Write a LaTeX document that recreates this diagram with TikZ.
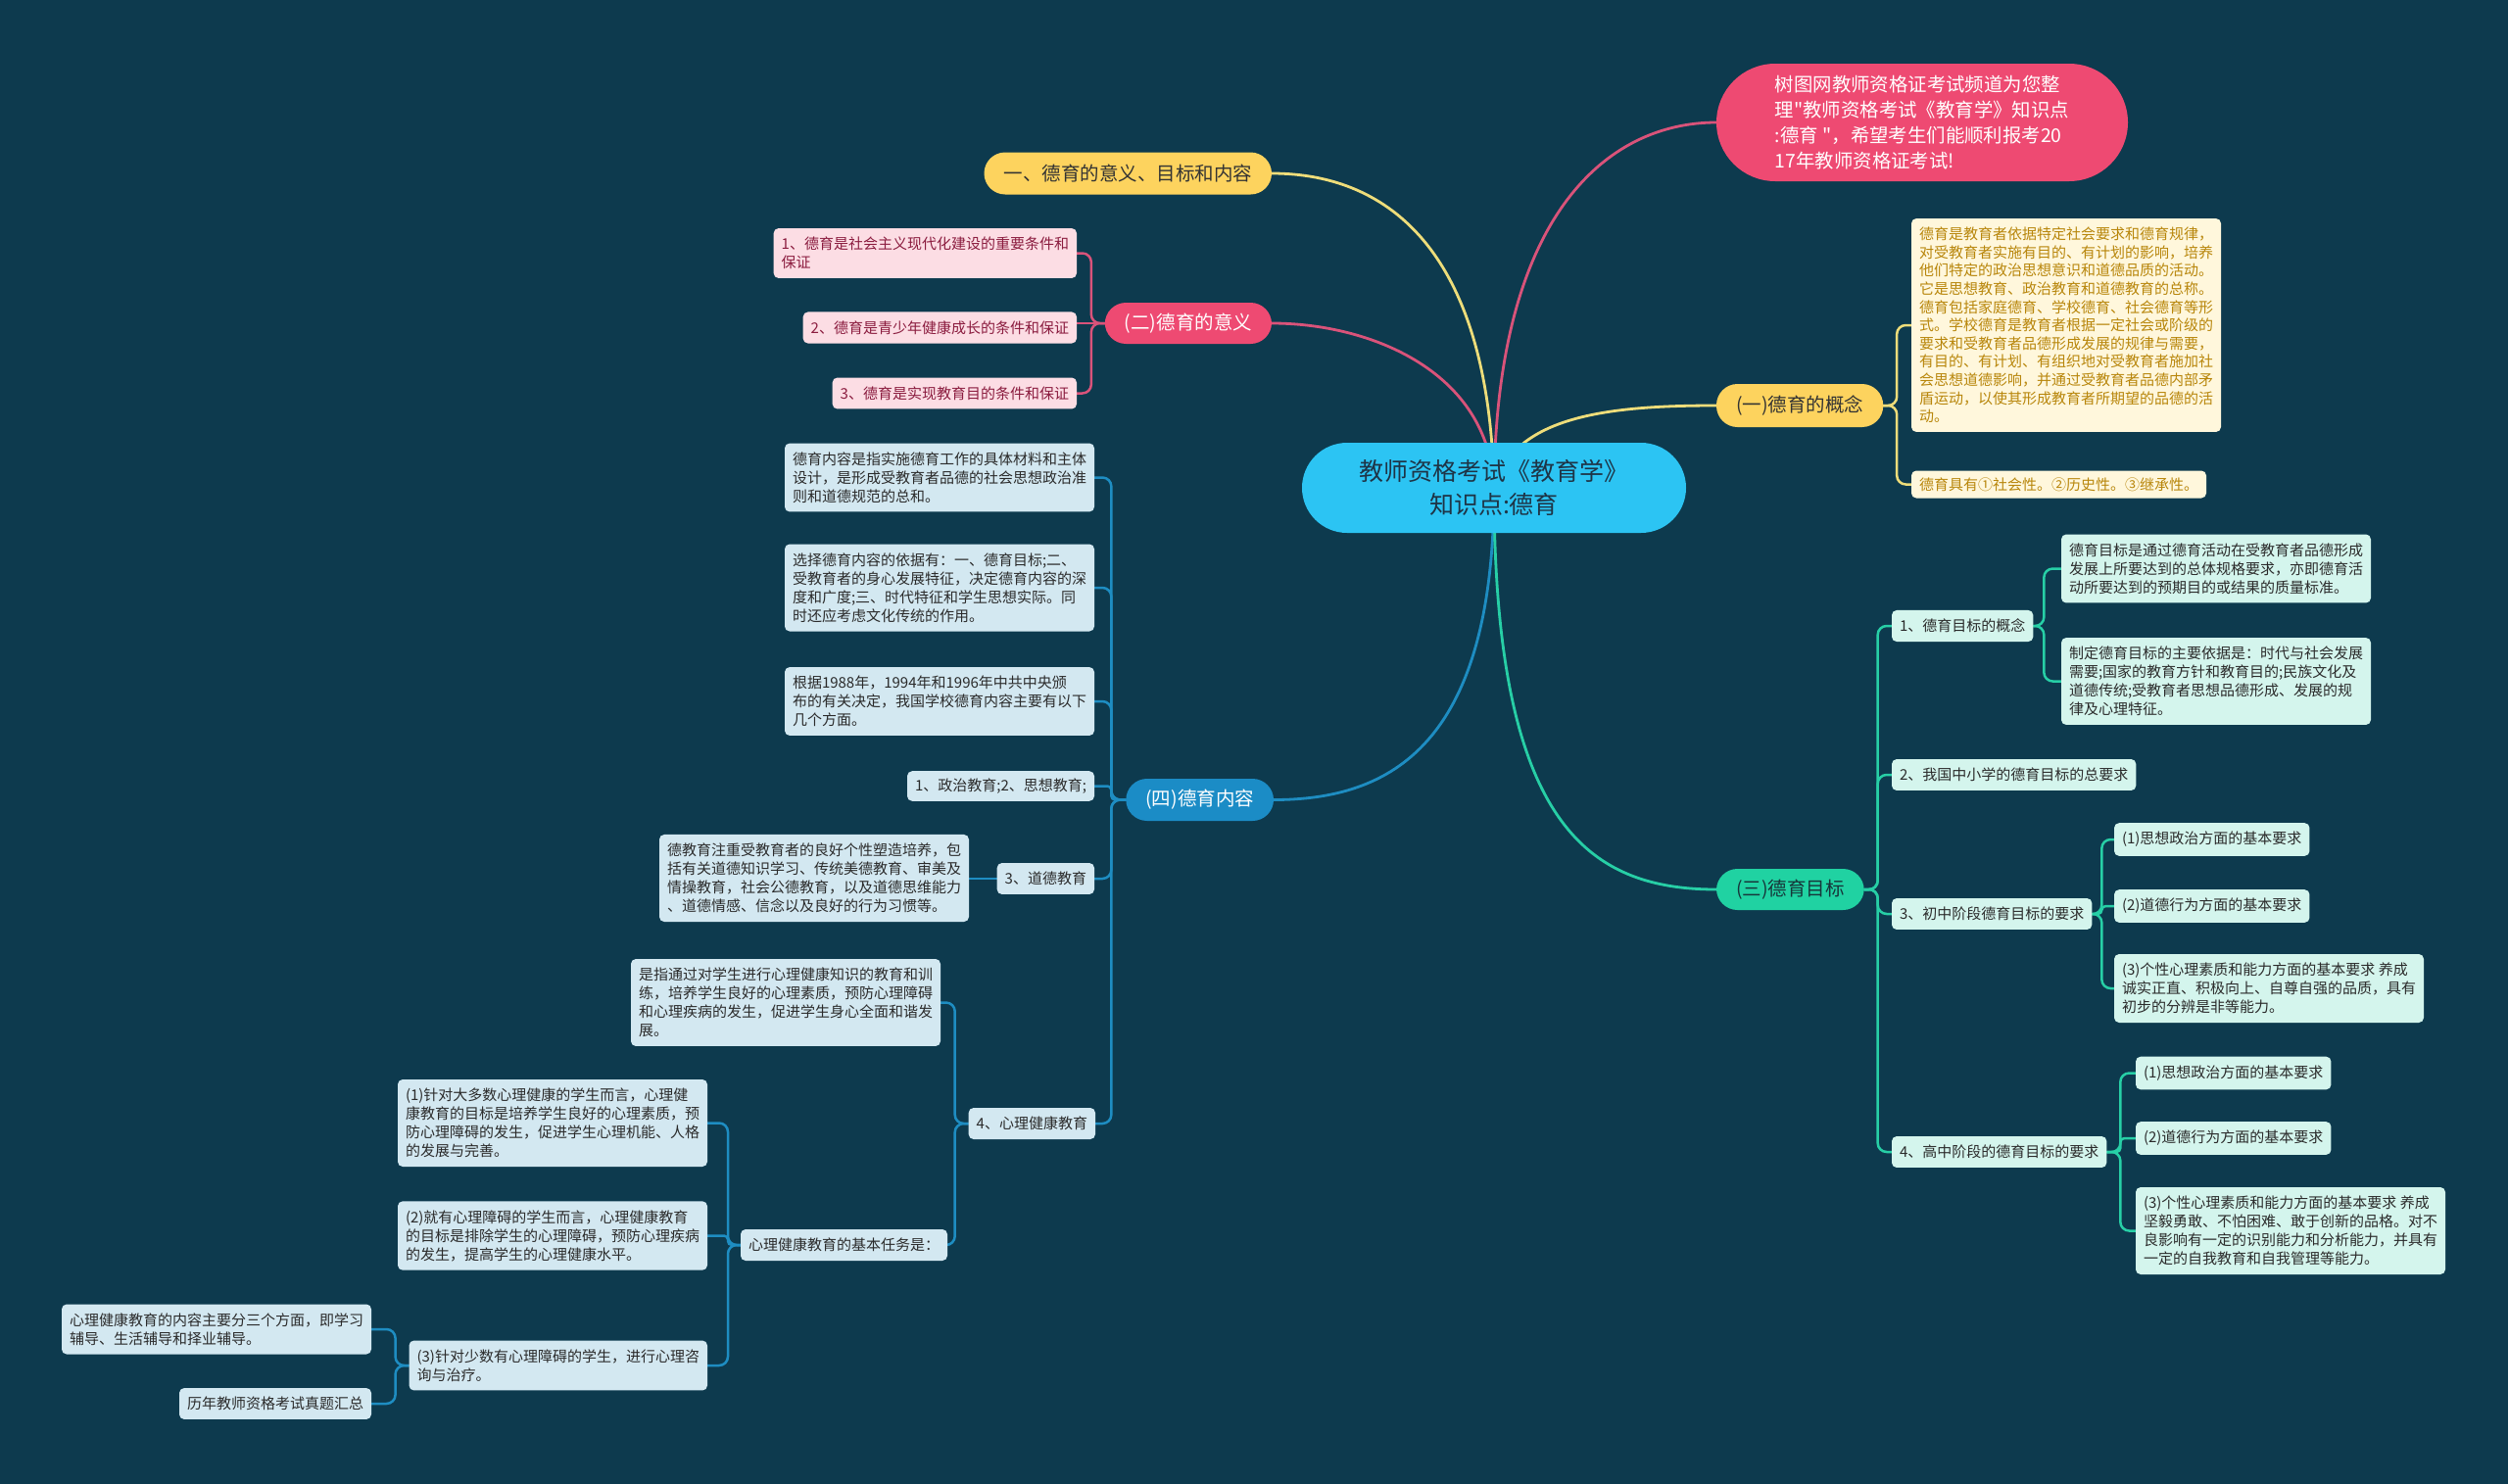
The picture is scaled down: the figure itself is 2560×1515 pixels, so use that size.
\documentclass[tikz,border=0pt]{standalone}
\usepackage{fontspec}
\setmainfont{Noto Sans CJK SC}
\newfontfamily\qfont{Noto Sans CJK SC}
\usetikzlibrary{calc}
\pgfdeclarelayer{bglayer}
\pgfdeclarelayer{edgelayer}
\pgfsetlayers{bglayer,edgelayer,main}
\definecolor{bgc}{HTML}{0D3A4E}
\definecolor{rootc}{HTML}{2CC4F3}
\definecolor{roottext}{HTML}{1E3446}
\definecolor{redc}{HTML}{EE4A72}
\definecolor{pinkline}{HTML}{D9537A}
\definecolor{yelc}{HTML}{FDD35E}
\definecolor{yeltext}{HTML}{333333}
\definecolor{yelline}{HTML}{EEDD7A}
\definecolor{tealc}{HTML}{20D2A2}
\definecolor{tealtext}{HTML}{17363A}
\definecolor{tealline}{HTML}{27CFA6}
\definecolor{bluec}{HTML}{1B8CC6}
\definecolor{blueline}{HTML}{1E8DC2}
\definecolor{pinkbox}{HTML}{FCDDE4}
\definecolor{pinktext}{HTML}{8B1C3F}
\definecolor{creambox}{HTML}{FFF7DC}
\definecolor{goldtext}{HTML}{B8860B}
\definecolor{tealbox}{HTML}{D4F5ED}
\definecolor{bluebox}{HTML}{D3E8F1}
\definecolor{darktext}{HTML}{2B2B2B}
\begin{document}
\begin{tikzpicture}[x=1pt,y=-1pt,
  every node/.style={inner sep=0pt,outer sep=0pt},
  rootnode/.style={fill=rootc,text=roottext,rounded corners=46pt,minimum width=392pt,minimum height=92pt,align=center,font=\fontsize{25}{34}\selectfont},
  pill/.style={inner xsep=20pt,inner ysep=0pt,minimum height=43pt,rounded corners=21.5pt,font=\fontsize{19.5}{24}\selectfont},
  pillR/.style={pill,fill=redc,text=white},
  pillY/.style={pill,fill=yelc,text=yeltext},
  pillT/.style={pill,fill=tealc,text=tealtext},
  pillB/.style={pill,fill=bluec,text=white},
  box/.style={rounded corners=5pt,inner xsep=8pt,inner ysep=9pt,align=left,font=\fontsize{15}{19}\selectfont},
  boxP/.style={box,fill=pinkbox,text=pinktext},
  boxY/.style={box,fill=creambox,text=goldtext},
  boxT/.style={box,fill=tealbox,text=darktext},
  boxB/.style={box,fill=bluebox,text=darktext},
  mainline/.style={line width=2.8pt},
  subline/.style={line width=2.5pt,rounded corners=9pt},
  smallr/.style={rounded corners=4pt}
]
\begin{pgfonlayer}{bglayer}
\fill[bgc] (0,0) rectangle (2560,1515);
\end{pgfonlayer}
\useasboundingbox (0,0) rectangle (2560,1515);

% root
\node[rootnode] (R) at (1525,498) {教师资格考试《教育学》\\知识点:德育};

% top-right note
\node[fill=redc,text=white,minimum width=420pt,minimum height=120pt,rounded corners=60pt,align=left,font=\fontsize{19.4}{26}\selectfont] (RT) at (1962,125) {树图网教师资格证考试频道为您整\\理{\qfont"}教师资格考试《教育学》知识点\\:德育 {\qfont"}，希望考生们能顺利报考20\\17年教师资格证考试!};

% left upper branches
\node[pillY,anchor=east] (N1) at (1298,177) {一、德育的意义、目标和内容};
\node[pillR,anchor=east,minimum height=42pt] (N2) at (1298,330) {(二)德育的意义};
\node[boxP,anchor=east] (S1) at (1099,258.5) {1、德育是社会主义现代化建设的重要条件和\\保证};
\node[boxP,anchor=east] (S2) at (1099,334.5) {2、德育是青少年健康成长的条件和保证};
\node[boxP,anchor=east] (S3) at (1099,401.5) {3、德育是实现教育目的条件和保证};

% right: concept
\node[pillY,anchor=west,minimum height=44pt] (NY) at (1752,414) {(一)德育的概念};
\node[boxY,anchor=west,font=\fontsize{15}{18.6}\selectfont] (K1) at (1951,332) {德育是教育者依据特定社会要求和德育规律，\\对受教育者实施有目的、有计划的影响，培养\\他们特定的政治思想意识和道德品质的活动。\\它是思想教育、政治教育和道德教育的总称。\\德育包括家庭德育、学校德育、社会德育等形\\式。学校德育是教育者根据一定社会或阶级的\\要求和受教育者品德形成发展的规律与需要，\\有目的、有计划、有组织地对受教育者施加社\\会思想道德影响，并通过受教育者品德内部矛\\盾运动，以使其形成教育者所期望的品德的活\\动。};
\node[boxY,anchor=west,inner ysep=7pt] (K2) at (1951,494.5) {德育具有①社会性。②历史性。③继承性。};

% right: goals
\node[pillT,anchor=west,minimum height=42pt] (N3) at (1752,908) {(三)德育目标};
\node[boxT,anchor=west] (T1) at (1931,639) {1、德育目标的概念};
\node[boxT,anchor=west] (TA) at (2104,580.5) {德育目标是通过德育活动在受教育者品德形成\\发展上所要达到的总体规格要求，亦即德育活\\动所要达到的预期目的或结果的质量标准。};
\node[boxT,anchor=west] (TB) at (2104,695.5) {制定德育目标的主要依据是：时代与社会发展\\需要;国家的教育方针和教育目的;民族文化及\\道德传统;受教育者思想品德形成、发展的规\\律及心理特征。};
\node[boxT,anchor=west] (T2) at (1931,791) {2、我国中小学的德育目标的总要求};
\node[boxT,anchor=west] (T3) at (1931,933) {3、初中阶段德育目标的要求};
\node[boxT,anchor=west] (T3a) at (2158,857) {(1)思想政治方面的基本要求};
\node[boxT,anchor=west] (T3b) at (2158,925) {(2)道德行为方面的基本要求};
\node[boxT,anchor=west] (T3c) at (2158,1009) {(3)个性心理素质和能力方面的基本要求 养成\\诚实正直、积极向上、自尊自强的品质，具有\\初步的分辨是非等能力。};
\node[boxT,anchor=west] (T4) at (1931,1176) {4、高中阶段的德育目标的要求};
\node[boxT,anchor=west] (T4a) at (2180,1095.5) {(1)思想政治方面的基本要求};
\node[boxT,anchor=west] (T4b) at (2180,1162) {(2)道德行为方面的基本要求};
\node[boxT,anchor=west] (T4c) at (2180,1256.5) {(3)个性心理素质和能力方面的基本要求 养成\\坚毅勇敢、不怕困难、敢于创新的品格。对不\\良影响有一定的识别能力和分析能力，并具有\\一定的自我教育和自我管理等能力。};

% left: content
\node[pillB,anchor=east] (N4) at (1300,816.5) {(四)德育内容};
\node[boxB,anchor=east] (C1) at (1117,487.5) {德育内容是指实施德育工作的具体材料和主体\\设计，是形成受教育者品德的社会思想政治准\\则和道德规范的总和。};
\node[boxB,anchor=east] (C2) at (1117,600) {选择德育内容的依据有：一、德育目标;二、\\受教育者的身心发展特征，决定德育内容的深\\度和广度;三、时代特征和学生思想实际。同\\时还应考虑文化传统的作用。};
\node[boxB,anchor=east] (C3) at (1117,716) {根据1988年，1994年和1996年中共中央颁\\布的有关决定，我国学校德育内容主要有以下\\几个方面。};
\node[boxB,anchor=east,inner ysep=7.5pt] (C4) at (1117,802.5) {1、政治教育;2、思想教育;};
\node[boxB,anchor=east] (C5) at (1117,897) {3、道德教育};
\node[boxB,anchor=east] (C5a) at (989,896.5) {德教育注重受教育者的良好个性塑造培养，包\\括有关道德知识学习、传统美德教育、审美及\\情操教育，社会公德教育，以及道德思维能力\\、道德情感、信念以及良好的行为习惯等。};
\node[boxB,anchor=east] (C6) at (1118,1147) {4、心理健康教育};
\node[boxB,anchor=east] (C6a) at (960,1023.5) {是指通过对学生进行心理健康知识的教育和训\\练，培养学生良好的心理素质，预防心理障碍\\和心理疾病的发生，促进学生身心全面和谐发\\展。};
\node[boxB,anchor=east] (C6b) at (967,1271) {心理健康教育的基本任务是：};
\node[boxB,anchor=east] (P1) at (722,1146.5) {(1)针对大多数心理健康的学生而言，心理健\\康教育的目标是培养学生良好的心理素质，预\\防心理障碍的发生，促进学生心理机能、人格\\的发展与完善。};
\node[boxB,anchor=east] (P2) at (722,1261.5) {(2)就有心理障碍的学生而言，心理健康教育\\的目标是排除学生的心理障碍，预防心理疾病\\的发生，提高学生的心理健康水平。};
\node[boxB,anchor=east] (P3) at (722,1394) {(3)针对少数有心理障碍的学生，进行心理咨\\询与治疗。};
\node[boxB,anchor=east] (X1) at (379,1357) {心理健康教育的内容主要分三个方面，即学习\\辅导、生活辅导和择业辅导。};
\node[boxB,anchor=east] (X2) at (379,1433) {历年教师资格考试真题汇总};

\begin{pgfonlayer}{edgelayer}
% main connectors
\draw[mainline,yelline] (R.center) .. controls (1520,260) and (1420,177) .. (N1.east);
\draw[mainline,pinkline] (R.center) .. controls (1520,380) and (1400,330) .. (N2.east);
\draw[mainline,pinkline] (R.center) .. controls (1527,220) and (1640,125) .. (RT.west);
\draw[mainline,yelline] (R.center) .. controls (1545,425) and (1640,414) .. (NY.west);
\draw[mainline,blueline] (R.center) .. controls (1525,760) and (1420,816.5) .. (N4.east);
\draw[mainline,tealline] (R.center) .. controls (1525,840) and (1620,908) .. (N3.west);
% (二)
\draw[subline,pinkline] (N2.west) -- ++(-14,0) |- (S1.east);
\draw[subline,pinkline] (N2.west) -- (S2.east |- N2.west);
\draw[subline,pinkline] (N2.west) -- ++(-14,0) |- (S3.east);
% (一)
\draw[subline,yelline] (NY.east) -- ++(14,0) |- (K1.west);
\draw[subline,yelline] (NY.east) -- ++(14,0) |- (K2.west);
% (三)
\draw[subline,tealline] (N3.east) -- ++(14,0) |- (T1.west);
\draw[subline,tealline] (N3.east) -- ++(14,0) |- (T2.west);
\draw[subline,tealline] (N3.east) -- ++(14,0) |- (T3.west);
\draw[subline,tealline] (N3.east) -- ++(14,0) |- (T4.west);
\draw[subline,tealline] (T1.east) -- ++(11,0) |- (TA.west);
\draw[subline,tealline] (T1.east) -- ++(11,0) |- (TB.west);
\draw[subline,tealline] (T3.east) -- ++(10,0) |- (T3a.west);
\draw[subline,tealline,smallr] (T3.east) -- ++(10,0) |- (T3b.west);
\draw[subline,tealline] (T3.east) -- ++(10,0) |- (T3c.west);
\draw[subline,tealline] (T4.east) -- ++(14,0) |- (T4a.west);
\draw[subline,tealline,smallr] (T4.east) -- ++(14,0) |- (T4b.west);
\draw[subline,tealline] (T4.east) -- ++(14,0) |- (T4c.west);
% (四)
\draw[subline,blueline] (N4.west) -- ++(-15,0) |- (C1.east);
\draw[subline,blueline] (N4.west) -- ++(-15,0) |- (C2.east);
\draw[subline,blueline] (N4.west) -- ++(-15,0) |- (C3.east);
\draw[subline,blueline,smallr] (N4.west) -- ++(-15,0) |- (C4.east);
\draw[subline,blueline] (N4.west) -- ++(-15,0) |- (C5.east);
\draw[subline,blueline] (N4.west) -- ++(-15,0) |- (C6.east);
\draw[subline,blueline] (C5.west) -- (C5a.east |- C5.west);
\draw[subline,blueline] (C6.west) -- ++(-14,0) |- (C6a.east);
\draw[subline,blueline] (C6.west) -- ++(-14,0) |- (C6b.east);
\draw[subline,blueline] (C6b.west) -- ++(-13,0) |- (P1.east);
\draw[subline,blueline,smallr] (C6b.west) -- ++(-13,0) |- (P2.east);
\draw[subline,blueline] (C6b.west) -- ++(-13,0) |- (P3.east);
\draw[subline,blueline] (P3.west) -- ++(-14,0) |- (X1.east);
\draw[subline,blueline] (P3.west) -- ++(-14,0) |- (X2.east);
\end{pgfonlayer}
\end{tikzpicture}
\end{document}
